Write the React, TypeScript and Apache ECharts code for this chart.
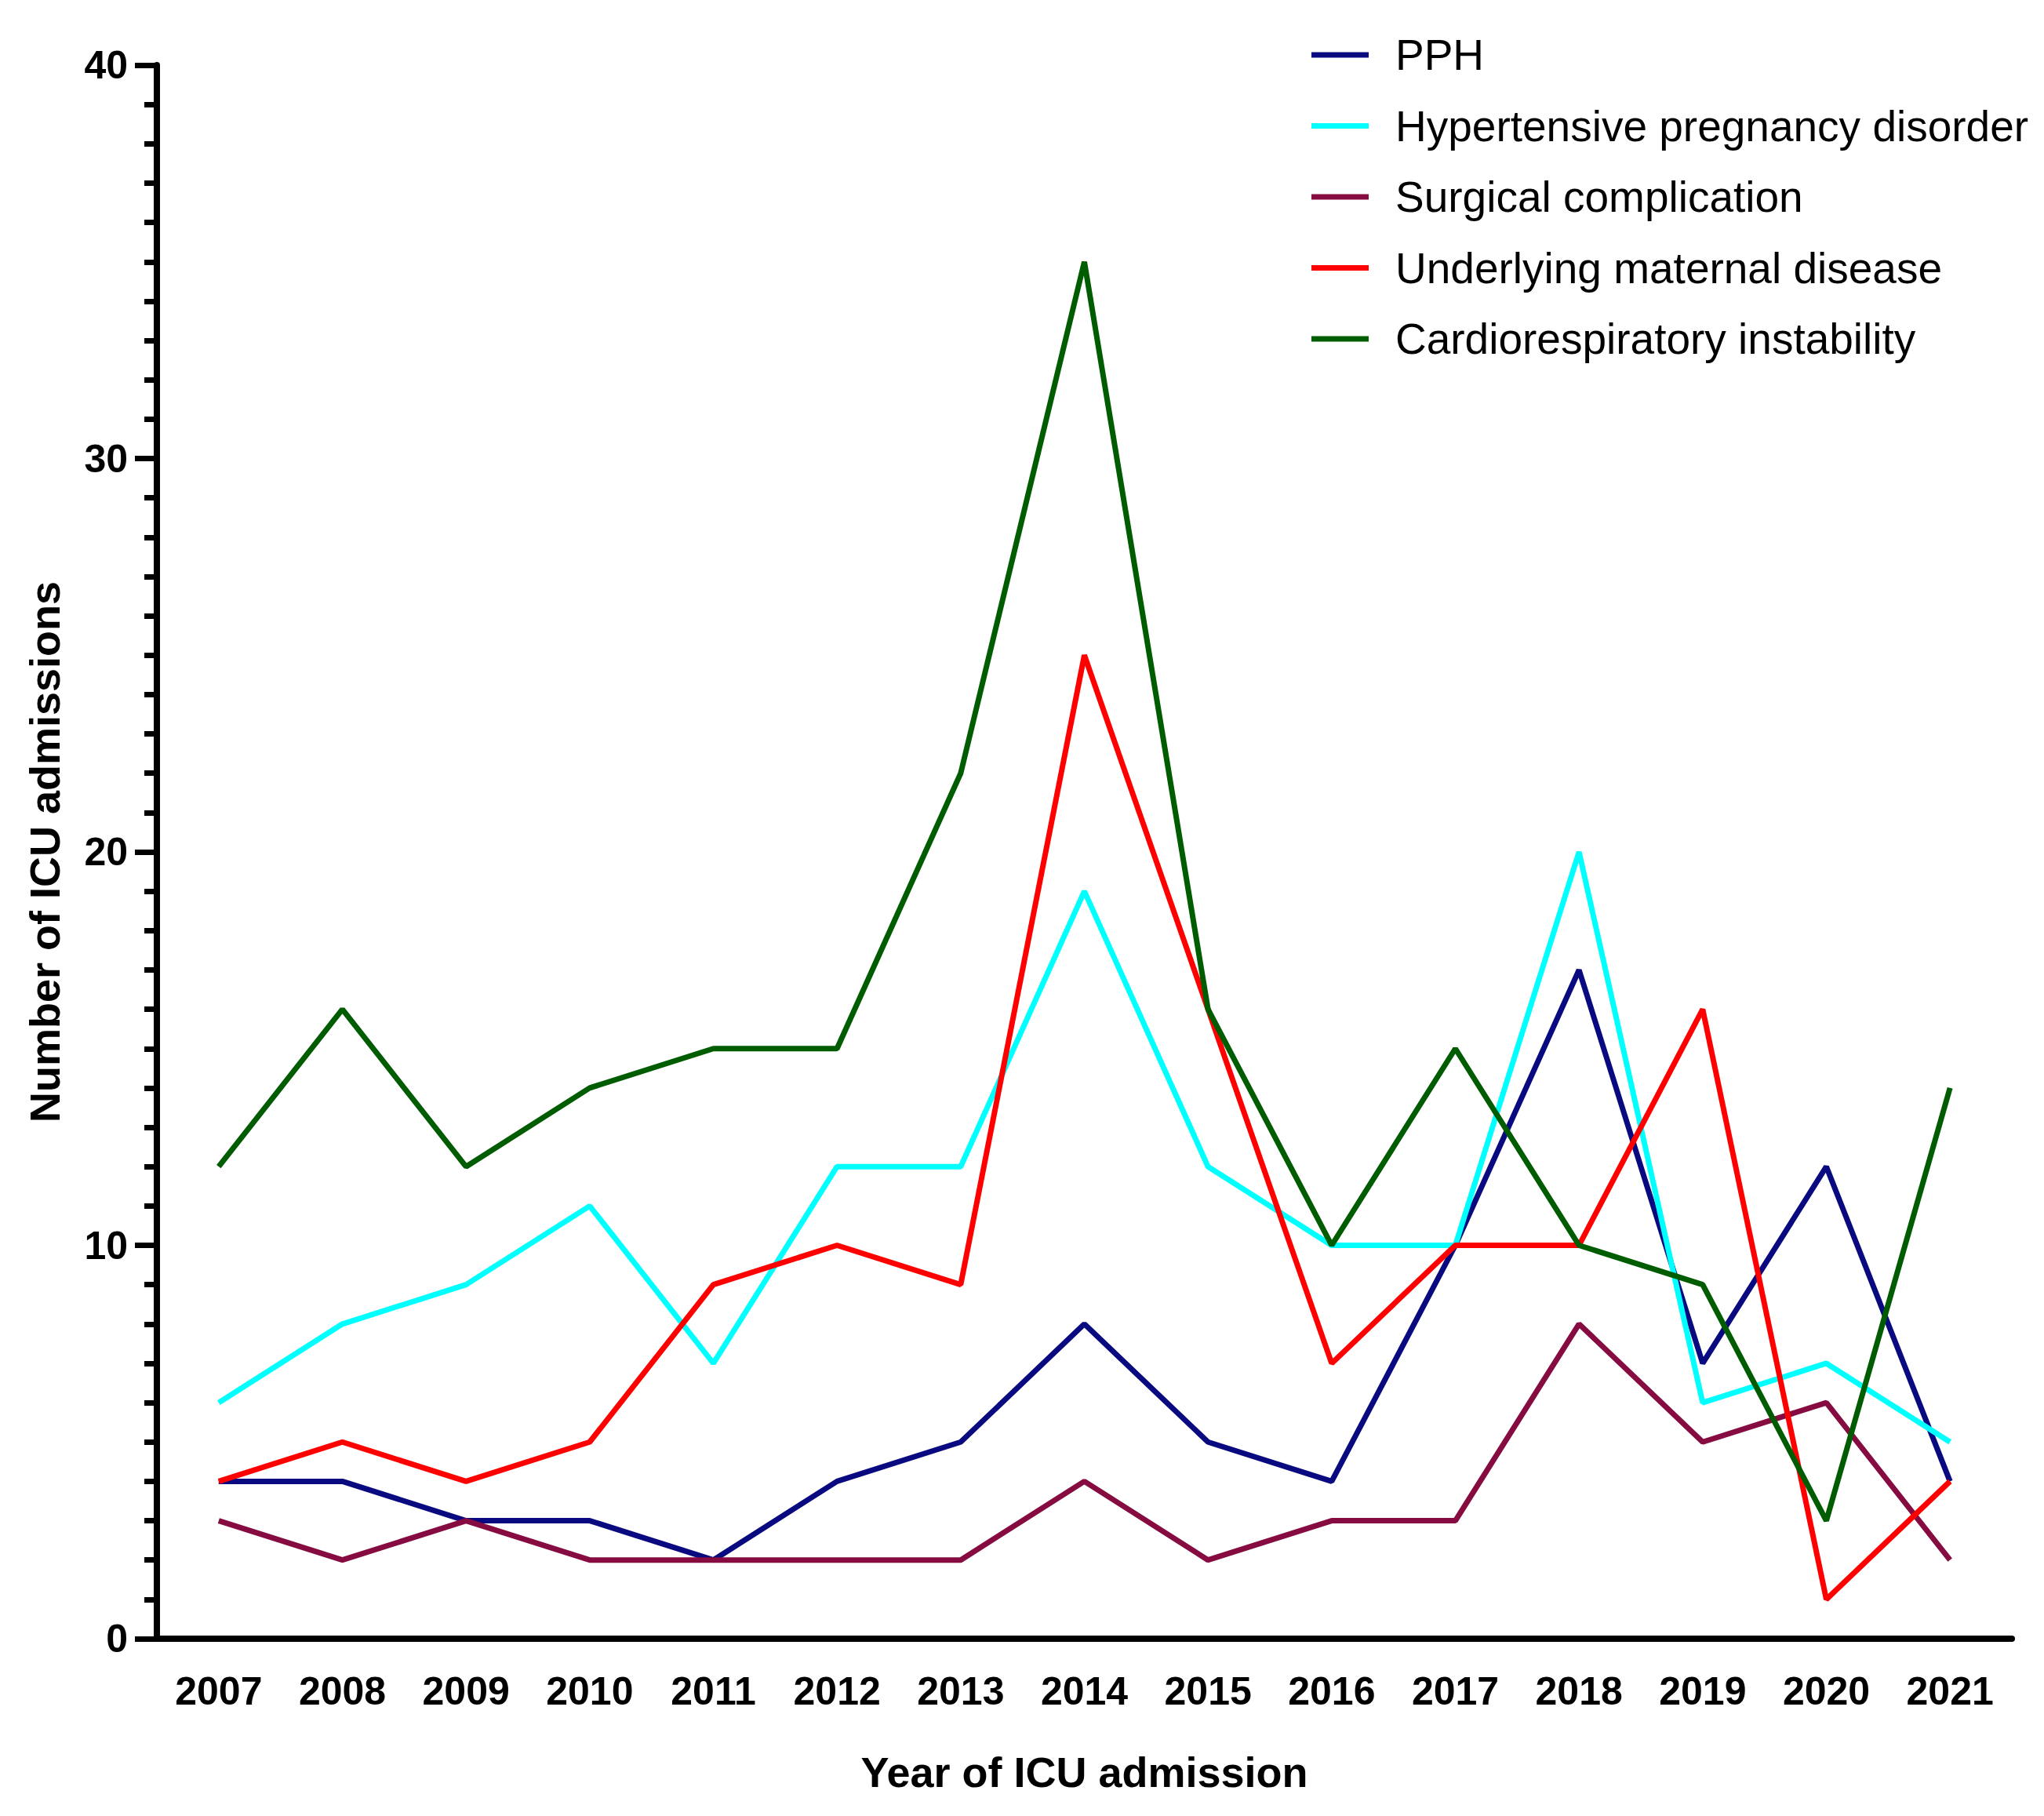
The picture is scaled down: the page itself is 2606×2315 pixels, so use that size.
import React, { useEffect, useRef } from 'react';
import * as echarts from 'echarts';

const years = ['2007', '2008', '2009', '2010', '2011', '2012', '2013', '2014', '2015', '2016', '2017', '2018', '2019', '2020', '2021'];

const pph = [4, 4, 3, 3, 2, 4, 5, 8, 5, 4, 10, 17, 7, 12, 4];
const hypertensive = [6, 8, 9, 11, 7, 12, 12, 19, 12, 10, 10, 20, 6, 7, 5];
const surgical = [3, 2, 3, 2, 2, 2, 2, 4, 2, 3, 3, 8, 5, 6, 2];
const underlying = [4, 5, 4, 5, 9, 10, 9, 25, 16, 7, 10, 10, 16, 1, 4];
const cardio = [12, 16, 12, 14, 15, 15, 22, 35, 16, 10, 15, 10, 9, 3, 14];

const seriesNames = [
  'PPH',
  'Hypertensive pregnancy disorder',
  'Surgical complication',
  'Underlying maternal disease',
  'Cardiorespiratory instability',
];
const seriesColors = ['#0a0a80', '#00ffff', '#850b40', '#ff0000', '#005c00'];

const App: React.FC = () => {
  const chartRef = useRef<HTMLDivElement>(null);

  useEffect(() => {
    if (!chartRef.current) return;
    const myChart = echarts.init(chartRef.current, undefined, { renderer: 'svg' });

    const values = [pph, hypertensive, surgical, underlying, cardio];
    const font = '"Liberation Sans", Arial, sans-serif';

    const option: echarts.EChartsOption = {
      animation: false,
      backgroundColor: '#ffffff',
      grid: { left: 200, top: 83, width: 2365, height: 2006 },
      legend: {
        orient: 'vertical',
        left: 1667,
        top: 35,
        icon: 'rect',
        itemWidth: 73,
        itemHeight: 7,
        itemGap: 30.5,
        data: seriesNames,
        textStyle: {
          fontFamily: font,
          fontSize: 55,
          color: '#000',
          lineHeight: 60,
          padding: [0, 0, 0, 29],
        },
      },
      xAxis: {
        type: 'category',
        data: years,
        boundaryGap: true,
        name: 'Year of ICU admission',
        nameLocation: 'middle',
        nameGap: 143,
        nameTextStyle: { fontFamily: font, fontSize: 54, fontWeight: 'bold', color: '#000' },
        axisLine: { lineStyle: { color: '#000', width: 8 } },
        axisTick: { alignWithLabel: true, interval: 0, length: 25, lineStyle: { color: '#000', width: 7 } },
        axisLabel: { interval: 0, margin: 42, fontFamily: font, fontSize: 50, fontWeight: 'bold', color: '#000' },
        splitLine: { show: false },
      },
      yAxis: {
        type: 'value',
        min: 0,
        max: 40,
        interval: 10,
        name: 'Number of ICU admissions',
        nameLocation: 'middle',
        nameGap: 116,
        nameTextStyle: { fontFamily: font, fontSize: 54, fontWeight: 'bold', color: '#000' },
        axisLine: { show: true, lineStyle: { color: '#000', width: 8 } },
        axisTick: { show: true, length: 28, lineStyle: { color: '#000', width: 7 } },
        minorTick: { show: true, splitNumber: 10, length: 16, lineStyle: { color: '#000', width: 7 } },
        axisLabel: { margin: 37, fontFamily: font, fontSize: 50, fontWeight: 'bold', color: '#000' },
        splitLine: { show: false },
      },
      series: seriesNames.map((name, i) => ({
        name,
        type: 'line' as const,
        data: values[i],
        symbol: 'none',
        color: seriesColors[i],
        lineStyle: { color: seriesColors[i], width: 7 },
      })),
    };

    myChart.setOption(option);

    return () => {
      myChart.dispose();
    };
  }, []);

  return (
    <div
      ref={chartRef}
      style={{ position: 'fixed', left: 0, top: 0, width: '2606px', height: '2315px', background: '#fff' }}
    />
  );
};

export default App;
